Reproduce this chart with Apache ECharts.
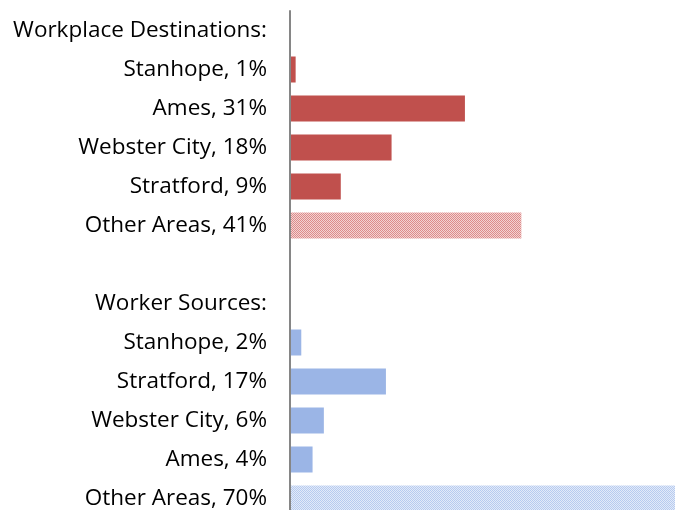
<!DOCTYPE html>
<html>
<head>
<meta charset="utf-8">
<script src="https://cdn.jsdelivr.net/npm/echarts@6/dist/echarts.min.js"></script>
<style>
  html, body { margin: 0; padding: 0; background: #fff; }
  #chart { width: 675px; height: 510px; }
</style>
</head>
<body>
<div id="chart"></div>
<script>
// Commuting flows: where residents work, and where workers come from (percent shares)
const destHeader = 'Workplace Destinations:';
const destNames = ['Stanhope', 'Ames', 'Webster City', 'Stratford', 'Other Areas'];
const destValues = [1, 31, 18, 9, 41];

const sourceHeader = 'Worker Sources:';
const sourceNames = ['Stanhope', 'Stratford', 'Webster City', 'Ames', 'Other Areas'];
const sourceValues = [2, 17, 6, 4, 70];

const RED = '#c0504d';
const BLUE = '#9bb5e6';

// Small checkered tile used for the "Other Areas" bars
function checker(dark, light) {
  const c = document.createElement('canvas');
  c.width = 2; c.height = 2;
  const g = c.getContext('2d');
  g.fillStyle = light; g.fillRect(0, 0, 2, 2);
  g.fillStyle = dark; g.fillRect(0, 0, 1, 1); g.fillRect(1, 1, 1, 1);
  return { image: c, repeat: 'repeat' };
}
const redPattern = checker('#dd8c8b', '#f3d3d3');
const bluePattern = checker('#b7cbef', '#e2eaf9');

const categories = [];
const data = [];
categories.push(destHeader);
data.push('-');
destNames.forEach((n, i) => {
  categories.push(n + ', ' + destValues[i] + '%');
  data.push({ value: destValues[i], itemStyle: { color: i === destNames.length - 1 ? redPattern : RED } });
});
categories.push('');
data.push('-');
categories.push(sourceHeader);
data.push('-');
sourceNames.forEach((n, i) => {
  categories.push(n + ', ' + sourceValues[i] + '%');
  data.push({ value: sourceValues[i], itemStyle: { color: i === sourceNames.length - 1 ? bluePattern : BLUE } });
});

const chart = echarts.init(document.getElementById('chart'), null, { renderer: 'canvas' });
chart.setOption({
  animation: false,
  // the plot runs a little past the right and bottom edges of the page
  grid: {
    left: 290, top: 11, width: 395, height: 507,
    containLabel: false, outerBoundsMode: 'none'
  },
  xAxis: {
    type: 'value', min: 0, max: 70, show: false
  },
  yAxis: {
    type: 'category',
    inverse: true,
    data: categories,
    z: 3,
    axisLine: { show: true, lineStyle: { color: '#868686', width: 2 } },
    axisTick: { show: false },
    axisLabel: {
      margin: 23,
      color: '#000',
      fontFamily: 'Open Sans',
      fontSize: 22.5
    }
  },
  series: [{
    type: 'bar',
    data: data,
    barWidth: 26
  }]
});
</script>
</body>
</html>
